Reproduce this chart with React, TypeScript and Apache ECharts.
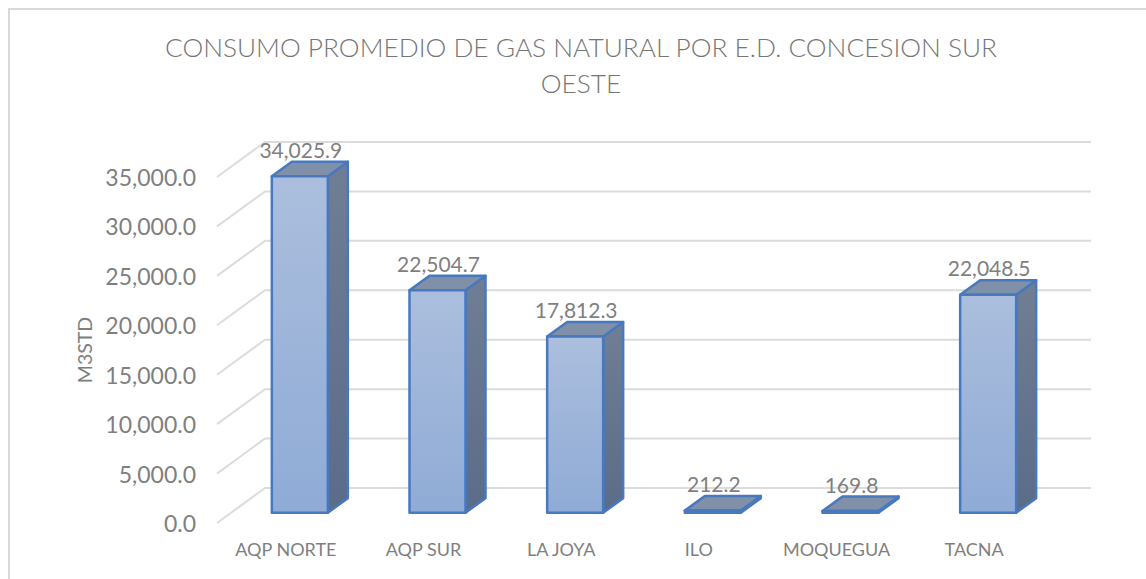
import React, { useEffect, useRef } from "react";
import * as echarts from "echarts";

const titleText = "CONSUMO PROMEDIO DE GAS NATURAL POR E.D. CONCESION SUR\nOESTE";
const axisName = "M3STD";
const categories = ["AQP NORTE", "AQP SUR", "LA JOYA", "ILO", "MOQUEGUA", "TACNA"];
const values = [34025.9, 22504.7, 17812.3, 212.2, 169.8, 22048.5];
const yTicks = [0, 5000, 10000, 15000, 20000, 25000, 30000, 35000];

const FONT = "Lato, Carlito, sans-serif";
const TEXT = "#7f7f7f";
const fmt = (v: number) =>
  v.toLocaleString("en-US", { minimumFractionDigits: 1, maximumFractionDigits: 1 });

const WALL_DX = 48;
const WALL_DY = -35;
const BAR_W = 56;
const BAR_OX = 14;
const BAR_OY = -10.3;
const BAR_DX = 20;
const BAR_DY = -14.5;
const BORDER = "#4878be";

function renderWall(params: any, api: any) {
  const cs = params.coordSys;
  const p = api.coord([0, api.value(1)]);
  const x0 = cs.x;
  const y0 = p[1];
  return {
    type: "polyline",
    silent: true,
    shape: {
      points: [
        [x0, y0],
        [x0 + WALL_DX, y0 + WALL_DY],
        [x0 + cs.width + WALL_DX, y0 + WALL_DY],
      ],
    },
    style: { stroke: "#dcdcdc", lineWidth: 2, fill: "none" },
  };
}

function renderBar(_params: any, api: any) {
  const v = api.value(1);
  const base = api.coord([api.value(0), 0]);
  const top = api.coord([api.value(0), v]);
  const l = base[0] + BAR_OX - BAR_W / 2;
  const r = l + BAR_W;
  const b = base[1] + BAR_OY;
  const t = top[1] + BAR_OY;
  const stroke = { stroke: BORDER, lineWidth: 2.5, lineJoin: "round" };
  return {
    type: "group",
    children: [
      {
        type: "polygon",
        shape: { points: [[r, t], [r + BAR_DX, t + BAR_DY], [r + BAR_DX, b + BAR_DY], [r, b]] },
        style: {
          ...stroke,
          fill: new echarts.graphic.LinearGradient(0, 0, 0, 1, [
            { offset: 0, color: "#707e95" },
            { offset: 1, color: "#5b6c89" },
          ]),
        },
      },
      {
        type: "polygon",
        shape: { points: [[l, t], [l + BAR_DX, t + BAR_DY], [r + BAR_DX, t + BAR_DY], [r, t]] },
        style: { ...stroke, fill: "#8090a8" },
      },
      {
        type: "rect",
        shape: { x: l, y: t, width: BAR_W, height: b - t },
        style: {
          ...stroke,
          fill: new echarts.graphic.LinearGradient(0, 0, 0, 1, [
            { offset: 0, color: "#abbedd" },
            { offset: 1, color: "#8fabd6" },
          ]),
        },
      },
      {
        type: "text",
        style: {
          text: fmt(v),
          x: l + BAR_W / 2 + 1,
          y: t - 27,
          align: "center",
          verticalAlign: "middle",
          fontFamily: FONT,
          fontSize: 21,
          fill: TEXT,
        },
      },
    ],
  };
}

export default function App() {
  const ref = useRef<HTMLDivElement>(null);
  useEffect(() => {
    document.body.style.margin = "0";
    const chart = echarts.init(ref.current!, undefined, { renderer: "svg" });
    chart.setOption({
      animation: false,
      backgroundColor: "#ffffff",
      title: {
        text: titleText,
        left: 581,
        top: 29,
        padding: 0,
        textAlign: "center",
        textStyle: { fontFamily: FONT, fontSize: 26.25, fontWeight: 300, color: "#767676", lineHeight: 36 },
      },
      grid: { left: 217, top: 177, width: 826, height: 346 },
      xAxis: {
        type: "category",
        data: categories,
        axisLine: { show: false },
        axisTick: { show: false },
        axisLabel: { color: TEXT, fontFamily: FONT, fontSize: 18, margin: 17, interval: 0 },
      },
      yAxis: {
        type: "value",
        min: 0,
        max: 35000,
        interval: 5000,
        name: axisName,
        nameLocation: "middle",
        nameGap: 114,
        nameTextStyle: { color: TEXT, fontFamily: FONT, fontSize: 19.5 },
        splitLine: { show: false },
        axisLine: { show: false },
        axisTick: { show: false },
        axisLabel: { color: TEXT, fontFamily: FONT, fontSize: 23, margin: 21, formatter: (v: number) => fmt(v) },
      },
      graphic: [
        {
          type: "polyline",
          silent: true,
          shape: { points: [[9, 579], [9, 9], [1146, 9]] },
          style: { stroke: "#d9d9d9", lineWidth: 2, fill: "none" },
        },
      ],
      series: [
        {
          type: "custom",
          name: "grid",
          z: 1,
          clip: false,
          silent: true,
          renderItem: renderWall,
          encode: { x: 0, y: 1 },
          data: yTicks.map((v) => [0, v]),
        },
        {
          type: "custom",
          name: "M3STD",
          z: 2,
          clip: false,
          silent: true,
          renderItem: renderBar,
          encode: { x: 0, y: 1 },
          data: values.map((v, i) => [i, v]),
        },
      ],
    });
    return () => chart.dispose();
  }, []);
  return <div ref={ref} style={{ position: "absolute", left: 0, top: 0, width: 1146, height: 579 }} />;
}
